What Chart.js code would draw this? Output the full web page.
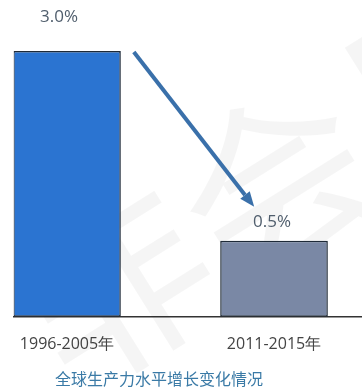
<!DOCTYPE html>
<html>
<head>
<meta charset="utf-8">
<script src="https://cdn.jsdelivr.net/npm/chart.js@4.4.1/dist/chart.umd.min.js"></script>
<style>
  html, body { margin: 0; padding: 0; background: #fff; overflow: hidden; }
  #wrap { position: relative; width: 362px; height: 387px; }
  #title {
    position: absolute; left: 55px; top: 366px;
    font: 16px "Noto Sans CJK SC", sans-serif; color: #3a7aa6; white-space: nowrap;
  }
</style>
</head>
<body>
<div id="wrap">
  <canvas id="myChart" width="362" height="387"></canvas>
  <div id="title">全球生产力水平增长变化情况</div>
</div>
<script>
'use strict'

// data
const periods = ['1996-2005年', '2011-2015年'];
const growth = [3.0, 0.5];
const barColors = ['#2b74d1', '#7a88a5'];

const points = [];
for (let i = 0; i < growth.length; i++) {
  points.push({ x: i, y: growth[i] });
}

// faint watermark behind the bars
const watermark = {
  id: 'watermark',
  beforeDatasetsDraw(chart) {
    const ctx = chart.ctx;
    ctx.save();
    ctx.translate(250, 200);
    ctx.rotate(-32 * Math.PI / 180);
    ctx.font = '190px "Noto Sans CJK SC"';
    ctx.fillStyle = 'rgba(0,0,0,0.04)';
    ctx.textAlign = 'center';
    ctx.textBaseline = 'middle';
    ctx.fillText('非会员', 30, 0);
    ctx.restore();
  }
};

// value labels and the falling arrow
const decorations = {
  id: 'decorations',
  afterDatasetsDraw(chart, args, opts) {
    const ctx = chart.ctx;
    const bars = chart.getDatasetMeta(0).data;
    ctx.save();
    ctx.font = '17px "Open Sans"';
    ctx.fillStyle = '#4f5d6c';
    ctx.textAlign = 'center';
    ctx.textBaseline = 'middle';
    for (let i = 0; i < bars.length; i++) {
      let off = opts.labelOffsets[i];
      ctx.fillText(growth[i].toFixed(1) + '%', bars[i].x + off[0], bars[i].y + off[1]);
    }

    let b0 = bars[0], b1 = bars[1];
    let x0 = b0.x + b0.width / 2 + 13, y0 = b0.y + 1;
    let x1 = b1.x - b1.width / 2 + 34, y1 = b1.y - 34;
    let ang = Math.atan2(y1 - y0, x1 - x0);
    let head = 15;
    ctx.strokeStyle = '#3a70aa';
    ctx.fillStyle = '#3a70aa';
    ctx.lineWidth = 4;
    ctx.beginPath();
    ctx.moveTo(x0, y0);
    ctx.lineTo(x1 - head * Math.cos(ang), y1 - head * Math.sin(ang));
    ctx.stroke();
    ctx.beginPath();
    ctx.moveTo(x1, y1);
    ctx.lineTo(x1 - head * Math.cos(ang) + 6 * Math.sin(ang), y1 - head * Math.sin(ang) - 6 * Math.cos(ang));
    ctx.lineTo(x1 - head * Math.cos(ang) - 6 * Math.sin(ang), y1 - head * Math.sin(ang) + 6 * Math.cos(ang));
    ctx.closePath();
    ctx.fill();
    ctx.restore();
  }
};

const config = {
  type: 'bar',
  data: {
    datasets: [{
      data: points,
      base: -0.5,
      backgroundColor: barColors,
      borderColor: '#1e2a38',
      borderWidth: 1.5,
      borderSkipped: false,
      categoryPercentage: 1,
      barPercentage: 0.52
    }]
  },
  options: {
    responsive: false,
    animation: false,
    layout: { padding: { left: 12, right: 0, top: 0, bottom: 15 } },
    plugins: {
      legend: { display: false },
      tooltip: { enabled: false },
      decorations: { labelOffsets: [[-8, -34], [-2, -19]] }
    },
    scales: {
      x: {
        type: 'linear',
        offset: false,
        min: -0.257,
        max: 1.425,
        afterBuildTicks(scale) {
          scale.ticks = periods.map((p, i) => ({ value: i }));
        },
        grid: { display: false, drawTicks: false },
        border: { display: true, color: '#333', width: 1.5 },
        ticks: {
          padding: 18,
          color: '#444',
          font: { family: 'Open Sans', size: 16 },
          callback: (v) => periods[v]
        }
      },
      y: {
        display: false,
        min: -0.5,
        max: 3.67
      }
    }
  },
  plugins: [watermark, decorations]
};

let myChart = new Chart(document.getElementById('myChart'), config);
</script>
</body>
</html>
